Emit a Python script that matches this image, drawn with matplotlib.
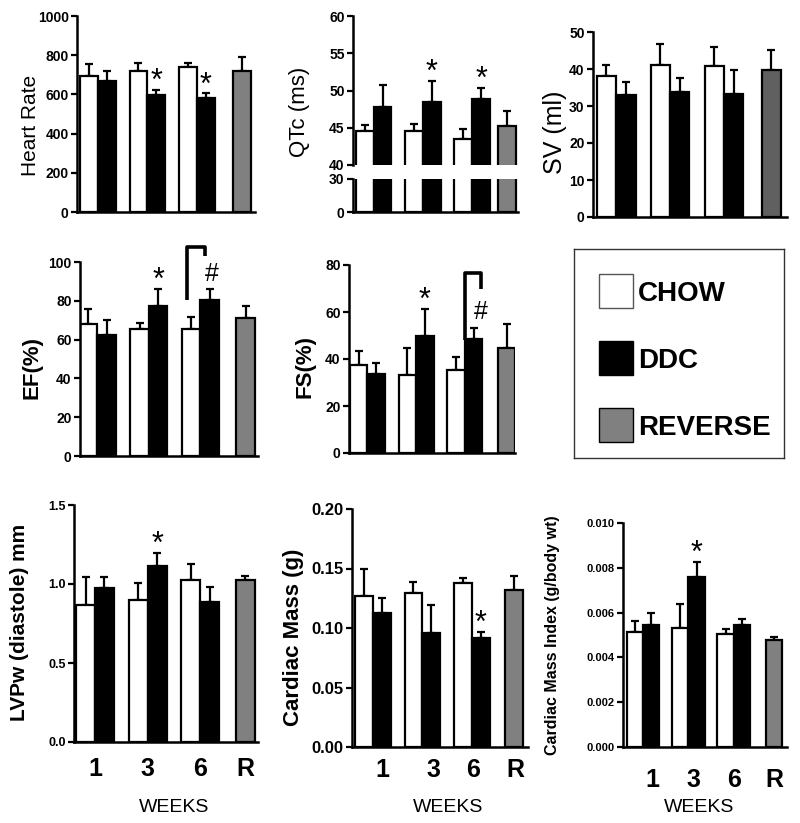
import matplotlib
matplotlib.use('Agg')
import matplotlib.pyplot as plt
from matplotlib.patches import Rectangle
import numpy as np

plt.rcParams['font.family'] = ['Liberation Sans', 'DejaVu Sans']

W, H = 800, 823

weeks = ['1', '3', '6', 'R']
legend_labels = ['CHOW', 'DDC', 'REVERSE']

# means and upper SEM, weeks 1 / 3 / 6, then reverse group
hr_chow = [695, 721, 740]
hr_chow_err = [58, 39, 22]
hr_ddc = [667, 597, 580]
hr_ddc_err = [51, 27, 25]
hr_rev, hr_rev_err = 719, 72

qtc_chow = [44.5, 44.6, 43.5]
qtc_chow_err = [0.9, 0.9, 1.3]
qtc_ddc = [47.8, 48.5, 48.8]
qtc_ddc_err = [2.9, 2.8, 1.6]
qtc_rev, qtc_rev_err = 45.2, 2.0

sv_chow = [38.2, 41.1, 40.9]
sv_chow_err = [2.8, 5.6, 5.1]
sv_ddc = [33.1, 33.7, 33.2]
sv_ddc_err = [3.4, 4.0, 6.4]
sv_rev, sv_rev_err = 39.8, 5.4

ef_chow = [68.2, 65.6, 65.6]
ef_chow_err = [7.5, 2.7, 6.3]
ef_ddc = [62.3, 77.3, 80.5]
ef_ddc_err = [7.6, 8.9, 5.6]
ef_rev, ef_rev_err = 71.3, 6.2

fs_chow = [37.5, 33.1, 35.5]
fs_chow_err = [6.0, 11.4, 5.3]
fs_ddc = [33.7, 49.9, 48.3]
fs_ddc_err = [4.8, 11.3, 5.1]
fs_rev, fs_rev_err = 44.5, 10.2

lvpw_chow = [0.866, 0.898, 1.025]
lvpw_chow_err = [0.176, 0.11, 0.099]
lvpw_ddc = [0.972, 1.116, 0.887]
lvpw_ddc_err = [0.074, 0.078, 0.095]
lvpw_rev, lvpw_rev_err = 1.025, 0.025

cm_chow = [0.127, 0.129, 0.1376]
cm_chow_err = [0.023, 0.0095, 0.0048]
cm_ddc = [0.1124, 0.0961, 0.0913]
cm_ddc_err = [0.0126, 0.0233, 0.005]
cm_rev, cm_rev_err = 0.132, 0.0118

cmi_chow = [0.00513, 0.00533, 0.00503]
cmi_chow_err = [0.0005, 0.00104, 0.00025]
cmi_ddc = [0.00543, 0.00759, 0.00543]
cmi_ddc_err = [0.00055, 0.00067, 0.00028]
cmi_rev, cmi_rev_err = 0.00476, 0.00015

BW = 0.36
GRAY = '#808080'


def rect(l, r, t, b):
    return [l / W, 1 - b / H, (r - l) / W, (b - t) / H]


def draw_bars(ax, chow, chow_err, ddc, ddc_err, rev, rev_err, gray_x=2.88,
              gray=GRAY, errors=True):
    x = np.arange(len(chow))
    ax.bar(x - BW / 2, chow, BW, color='white', edgecolor='black', linewidth=1.6, zorder=2)
    ax.bar(x + BW / 2, ddc, BW, color='black', edgecolor='black', linewidth=1.6, zorder=2)
    ax.bar([gray_x], [rev], BW, color=gray, edgecolor='black', linewidth=1.6, zorder=2)
    if errors:
        for xs, m, e in [(x - BW / 2, chow, chow_err), (x + BW / 2, ddc, ddc_err),
                         ([gray_x], [rev], [rev_err])]:
            ax.errorbar(xs, m, yerr=[np.zeros(len(m)), e], fmt='none', ecolor='black',
                        elinewidth=1.6, capsize=3, capthick=1.6, zorder=1)


def style(ax, xlim, yticks, fmt, tsize):
    ax.set_xlim(xlim)
    ax.set_ylim(yticks[0], yticks[-1])
    ax.set_yticks(yticks)
    ax.set_yticklabels([fmt.format(t) for t in yticks], fontsize=tsize, fontweight='bold')
    for s in ['top', 'right']:
        ax.spines[s].set_visible(False)
    for s in ['left', 'bottom']:
        ax.spines[s].set_linewidth(1.8)
    ax.tick_params(axis='y', length=4, width=1.6, pad=2)
    ax.tick_params(axis='x', length=0)
    ax.set_xticks([])


def mark(ax, xpos, top, sym, dx=0.0):
    size = 22 if sym == '*' else 18
    off = 0 if sym == '*' else 6
    ax.annotate(sym, (xpos + dx, top), xytext=(0, off), textcoords='offset points',
                ha='center', va='baseline', fontsize=size)


fig = plt.figure(figsize=(W / 100, H / 100), dpi=100)

# Heart rate
ax = fig.add_axes(rect(77, 255, 16, 212))
draw_bars(ax, hr_chow, hr_chow_err, hr_ddc, hr_ddc_err, hr_rev, hr_rev_err, gray_x=2.9)
style(ax, (-0.42, 3.17), np.arange(0, 1001, 200), '{:.0f}', 10)
for i in [1, 2]:
    mark(ax, i + BW / 2, hr_ddc[i] + hr_ddc_err[i], '*')

# QTc, broken axis
ax_up = fig.add_axes(rect(353, 518, 16, 165))
ax_lo = fig.add_axes(rect(353, 518, 179, 212))
draw_bars(ax_up, qtc_chow, qtc_chow_err, qtc_ddc, qtc_ddc_err, qtc_rev, qtc_rev_err, gray_x=2.7)
draw_bars(ax_lo, qtc_chow, qtc_chow_err, qtc_ddc, qtc_ddc_err, qtc_rev, qtc_rev_err, gray_x=2.7,
          errors=False)
style(ax_up, (-0.42, 2.93), [40, 45, 50, 55, 60], '{:.0f}', 10)
style(ax_lo, (-0.42, 2.93), [0, 30], '{:.0f}', 10)
ax_up.spines['bottom'].set_visible(False)
for i in [1, 2]:
    mark(ax_up, i + BW / 2, qtc_ddc[i] + qtc_ddc_err[i], '*')

# SV
ax = fig.add_axes(rect(593, 787, 32, 217))
draw_bars(ax, sv_chow, sv_chow_err, sv_ddc, sv_ddc_err, sv_rev, sv_rev_err, gray='#606060')
style(ax, (-0.43, 3.17), np.arange(0, 51, 10), '{:.0f}', 10)

# EF
ax = fig.add_axes(rect(80, 258, 262, 456))
draw_bars(ax, ef_chow, ef_chow_err, ef_ddc, ef_ddc_err, ef_rev, ef_rev_err)
style(ax, (-0.34, 3.12), np.arange(0, 101, 20), '{:.0f}', 10)
mark(ax, 1 + BW / 2, ef_ddc[1] + ef_ddc_err[1], '*')
mark(ax, 2 + BW / 2, ef_ddc[2] + ef_ddc_err[2], '#', dx=0.04)
ax.plot([1.74, 1.74, 2.09, 2.09], [80.5, 107.5, 107.5, 103], color='black', lw=2.6,
        clip_on=False, solid_joinstyle='round', solid_capstyle='butt')

# FS
ax = fig.add_axes(rect(349, 515, 265, 453))
draw_bars(ax, fs_chow, fs_chow_err, fs_ddc, fs_ddc_err, fs_rev, fs_rev_err, gray_x=2.86)
style(ax, (-0.38, 3.03), np.arange(0, 81, 20), '{:.0f}', 10)
mark(ax, 1 + BW / 2, fs_ddc[1] + fs_ddc_err[1], '*')
mark(ax, 2 + BW / 2, fs_ddc[2] + fs_ddc_err[2], '#', dx=0.15)
ax.plot([2.0, 2.0, 2.34, 2.34], [48, 76.7, 76.7, 70], color='black', lw=2.6,
        clip_on=False, solid_joinstyle='round', solid_capstyle='butt')

# legend box
lax = fig.add_axes(rect(574, 784, 249, 458))
lax.set_xlim(0, 210)
lax.set_ylim(209, 0)
lax.set_xticks([])
lax.set_yticks([])
for s in lax.spines.values():
    s.set_linewidth(1.0)
    s.set_color('#333333')
for i, (lab, col) in enumerate(zip(legend_labels, ['white', 'black', GRAY])):
    y0 = 25 + i * 67
    lax.add_patch(Rectangle((25, y0), 34, 34, facecolor=col,
                            edgecolor='#555555' if i == 0 else 'black', lw=1.0))
    lax.text(64, y0 + 27, lab, fontsize=20, fontweight='bold', va='baseline')

# LVPw
ax = fig.add_axes(rect(74, 258, 505, 742))
draw_bars(ax, lvpw_chow, lvpw_chow_err, lvpw_ddc, lvpw_ddc_err, lvpw_rev, lvpw_rev_err, gray_x=2.86)
style(ax, (-0.4, 3.1), [0.0, 0.5, 1.0, 1.5], '{:.1f}', 9)
mark(ax, 1 + BW / 2, lvpw_ddc[1] + lvpw_ddc_err[1], '*')
ax.set_xticks([0, 1, 2, 2.86])
ax.set_xticklabels(weeks, fontsize=18, fontweight='bold')
ax.tick_params(axis='x', pad=11)

# Cardiac mass
ax = fig.add_axes(rect(352, 528, 509, 747))
draw_bars(ax, cm_chow, cm_chow_err, cm_ddc, cm_ddc_err, cm_rev, cm_rev_err, gray_x=2.85)
style(ax, (-0.42, 3.13), [0.0, 0.05, 0.10, 0.15, 0.20], '{:.2f}', 12)
mark(ax, 2 + BW / 2, cm_ddc[2] + cm_ddc_err[2], '*')
ax.set_xticks([0.2, 1.22, 2.03, 2.87])
ax.set_xticklabels(weeks, fontsize=18, fontweight='bold')
ax.tick_params(axis='x', pad=8)

# Cardiac mass index
ax = fig.add_axes(rect(623, 787, 523, 747))
draw_bars(ax, cmi_chow, cmi_chow_err, cmi_ddc, cmi_ddc_err, cmi_rev, cmi_rev_err, gray_x=2.89)
style(ax, (-0.44, 3.17), [0.0, 0.002, 0.004, 0.006, 0.008, 0.010], '{:.3f}', 8)
mark(ax, 1 + BW / 2, cmi_ddc[1] + cmi_ddc_err[1], '*')
ax.set_xticks([0.2, 1.1, 2.0, 2.9])
ax.set_xticklabels(weeks, fontsize=18, fontweight='bold')
ax.tick_params(axis='x', pad=15)

# y axis titles
ylabels = [
    ('Heart Rate', 31, 125, 15, 'normal'),
    ('QTc (ms)', 300, 112, 16, 'normal'),
    ('SV (ml)', 555, 132, 18, 'normal'),
    ('EF(%)', 32, 367, 16, 'bold'),
    ('FS(%)', 305, 366, 16, 'bold'),
    ('LVPw (diastole) mm', 20, 622, 15, 'bold'),
    ('Cardiac Mass (g)', 294, 637, 16, 'bold'),
    ('Cardiac Mass Index (g/body wt)', 553, 635, 11.5, 'bold'),
]
for txt, x, y, size, weight in ylabels:
    fig.text(x / W, 1 - y / H, txt, rotation=90, ha='center', va='center',
             fontsize=size, fontweight=weight)

for x in [174, 448, 699]:
    fig.text(x / W, 1 - 808 / H, 'WEEKS', ha='center', va='center', fontsize=14)

fig.savefig('out.png', dpi=100)
